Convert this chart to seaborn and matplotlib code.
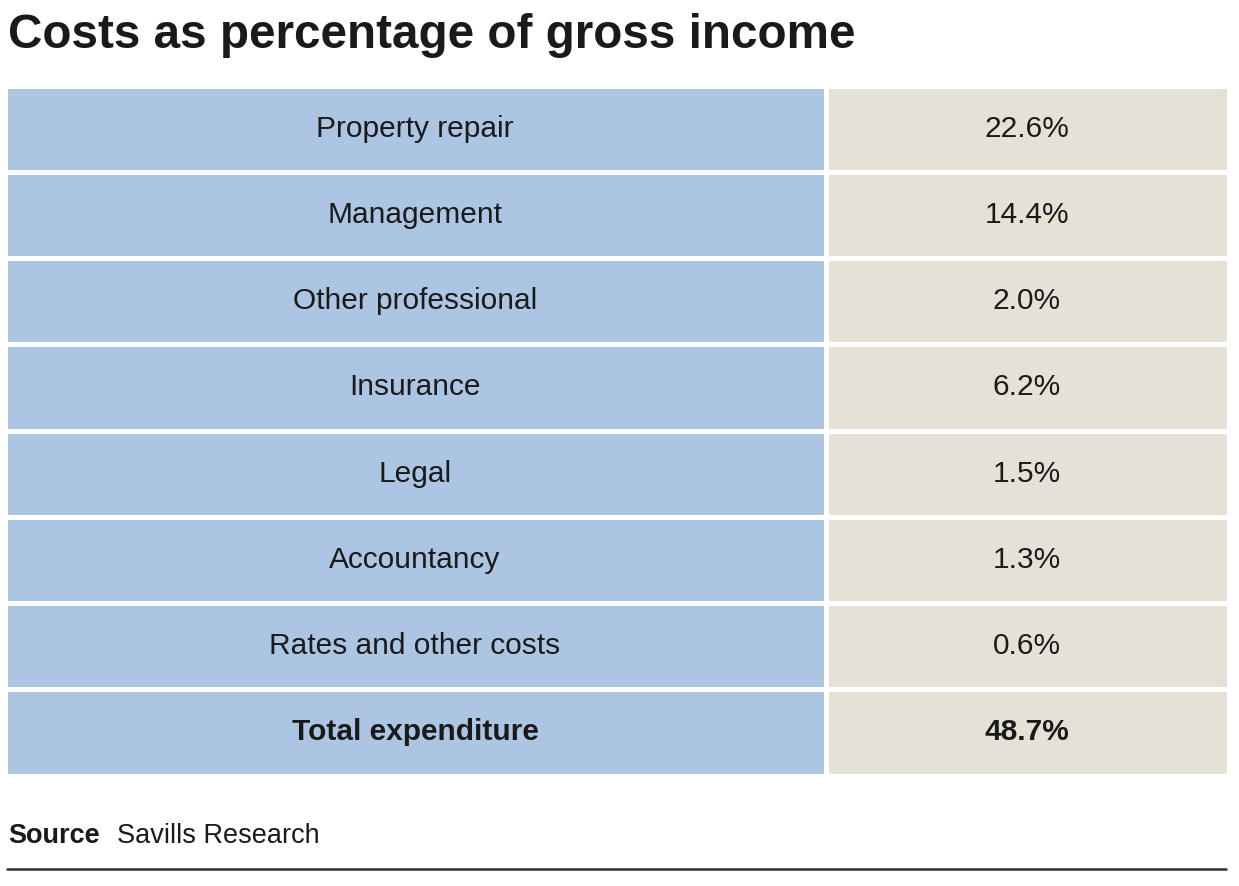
import numpy as np
import matplotlib.pyplot as plt
import seaborn as sns
from matplotlib.colors import ListedColormap
from matplotlib.lines import Line2D

# --- data ---
cost_items = ["Property repair", "Management", "Other professional", "Insurance",
              "Legal", "Accountancy", "Rates and other costs", "Total expenditure"]
cost_shares = [22.6, 14.4, 2.0, 6.2, 1.5, 1.3, 0.6, 48.7]
share_labels = [f"{v:.1f}%" for v in cost_shares]
title = "Costs as percentage of gross income"
source_label = "Source"
source_text = "Savills Research"

BLUE = "#abc5e3"
BEIGE = "#e5e1d7"
INK = "#1a1a1a"

sns.set_theme(style="white")
plt.rcParams["font.family"] = ["Liberation Sans", "DejaVu Sans"]

W, H = 1239, 886
fig = plt.figure(figsize=(W / 100, H / 100), dpi=100)
fig.patch.set_facecolor("white")


def px_axes(x0, y0, x1, y1):
    """Axes from pixel box (top-left origin)."""
    return fig.add_axes([x0 / W, 1 - y1 / H, (x1 - x0) / W, (y1 - y0) / H])


gap_px = 5
lw = gap_px * 72 / 100  # points
pad = gap_px / 2
top, bottom = 88 - pad, 773 + pad

values = np.array(cost_shares).reshape(-1, 1)

# left column: item names
ax_l = px_axes(7 - pad, top, 823 + pad, bottom)
sns.heatmap(values, ax=ax_l, cmap=ListedColormap([BLUE]), cbar=False,
            annot=np.array(cost_items).reshape(-1, 1), fmt="",
            annot_kws={"fontsize": 21.5, "color": INK},
            linewidths=lw, linecolor="white")

# right column: shares
ax_r = px_axes(828 - pad, top, 1226 + pad, bottom)
sns.heatmap(values, ax=ax_r, cmap=ListedColormap([BEIGE]), cbar=False,
            annot=np.array(share_labels).reshape(-1, 1), fmt="",
            annot_kws={"fontsize": 21.5, "color": INK},
            linewidths=lw, linecolor="white")

for ax in (ax_l, ax_r):
    ax.set_xticks([])
    ax.set_yticks([])
    ax.set_xlabel("")
    ax.set_ylabel("")
    ax.patch.set_alpha(0)
    for s in ax.spines.values():
        s.set_visible(False)
    # bold total row
    ax.texts[-1].set_fontweight("bold")

# title
fig.text(8 / W, 1 - 48 / H, title, fontsize=34.3, fontweight="bold",
         color=INK, ha="left", va="baseline")

# source
fig.text(8 / W, 1 - 843 / H, source_label, fontsize=19.5, fontweight="bold",
         color=INK, ha="left", va="baseline")
fig.text(117 / W, 1 - 843 / H, source_text, fontsize=19.5,
         color=INK, ha="left", va="baseline")

fig.add_artist(Line2D([7 / W, 1226 / W], [1 - 869 / H, 1 - 869 / H],
                      color="#333333", linewidth=1.8, transform=fig.transFigure))

fig.savefig("out.png", dpi=100, facecolor="white")
